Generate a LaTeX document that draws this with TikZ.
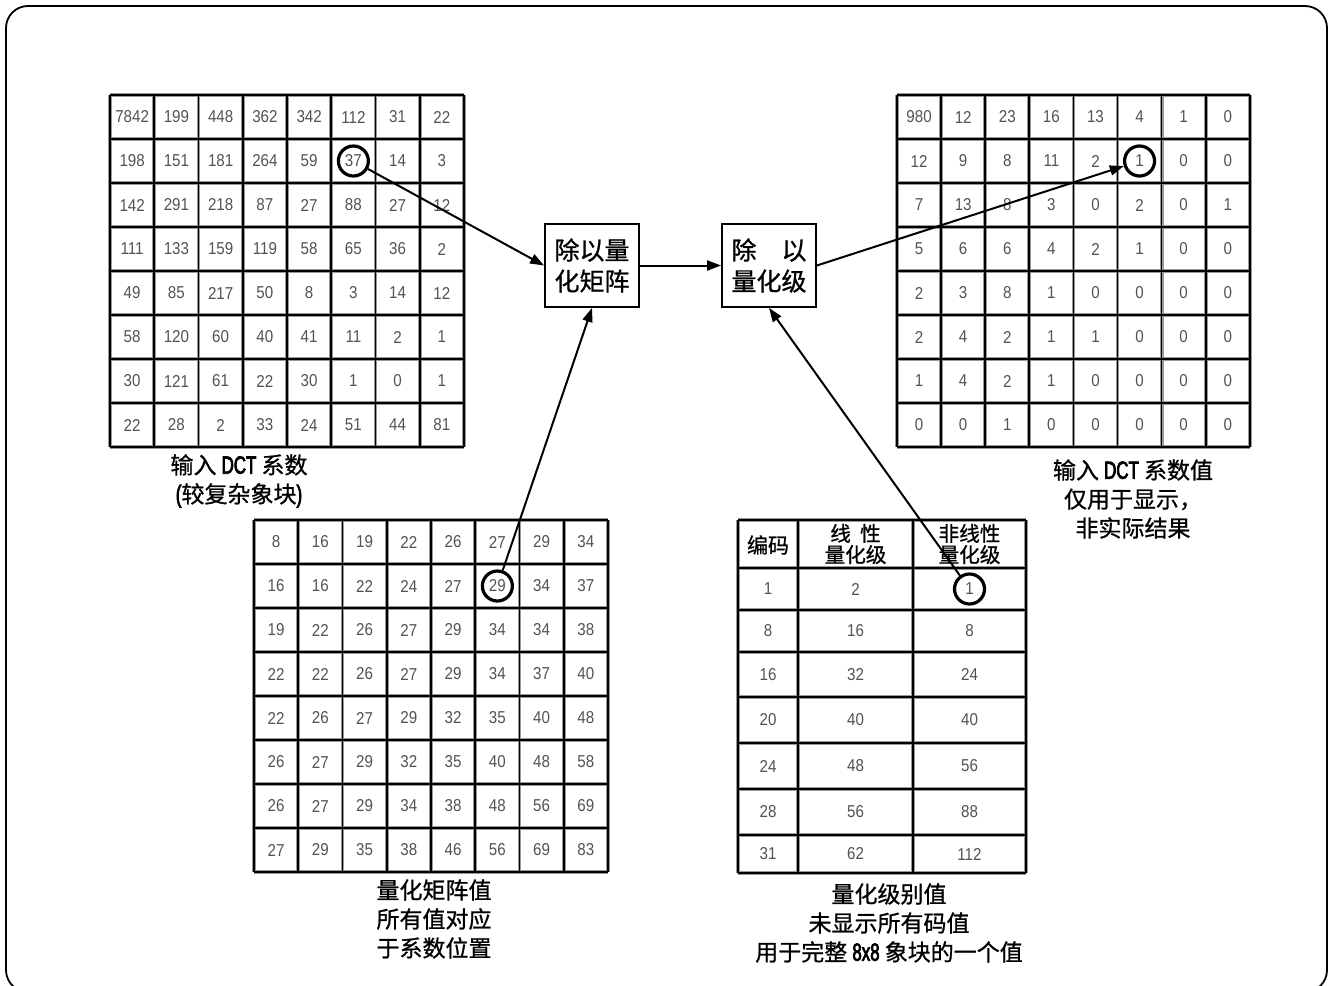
\documentclass[tikz,border=0pt]{standalone}
\usepackage{fontspec}
\setmainfont[FakeBold=0.9]{Noto Sans CJK SC}
\newfontfamily\digitfont[FakeStretch=0.88]{Liberation Sans}
\newfontfamily\condfont[FakeStretch=0.68,FakeBold=3,Scale=1.08]{Liberation Sans}
\usetikzlibrary{arrows.meta}
\newcommand{\cond}[1]{{\condfont #1}}
\newcommand{\qgrid}[4]{%
  \foreach \k in {0,...,8}{
    \draw[gridhalo] ({#1+\k*#3},#2) -- ({#1+\k*#3},{#2+8*#4});
    \draw[gridhalo] (#1,{#2+\k*#4}) -- ({#1+8*#3},{#2+\k*#4});
  }
  \foreach \k in {0,...,8}{
    \draw[gridline] ({#1+\k*#3},#2) -- ({#1+\k*#3},{#2+8*#4});
    \draw[gridline] (#1,{#2+\k*#4}) -- ({#1+8*#3},{#2+\k*#4});
  }
}
\newcommand{\qdata}[6]{%
  \foreach \row [count=\r] in {#5} {
    \foreach \v [count=\c] in \row {
      \node[num] (#6-\r-\c) at ({#1+(\c-0.5)*#3},{#2+(\r-0.5)*#4}) {\v};
    }
  }
}
\begin{document}
\begin{tikzpicture}[x=0.5pt,y=-0.5pt,
  gridhalo/.style={line width=1.9pt,black!40},
  gridline/.style={line width=0.85pt,black},
  num/.style={font=\digitfont\fontsize{8.6}{10}\selectfont,text=black!68,inner sep=0pt},
  circ/.style={circle,draw,line width=1.6pt,minimum size=15pt,inner sep=0pt},
  opbox/.style={draw,line width=0.9pt,minimum width=47pt,minimum height=41.5pt,
    font=\fontsize{12.5}{15.5}\selectfont,align=center,inner sep=0pt},
  lbl/.style={font=\fontsize{11.5}{14.5}\selectfont,align=center,inner sep=0pt},
  hdr/.style={font=\fontsize{10.3}{10.6}\selectfont,align=center,inner sep=0pt},
  arr/.style={line width=1pt,-{Triangle[length=7pt,width=5pt]}}]
\useasboundingbox (0,0) rectangle (1336,985);
\clip (0,0) rectangle (1336,985);
\draw[line width=0.9pt,rounded corners=11pt] (6,6) rectangle (1327,992);

% input DCT matrix
\qgrid{110}{95}{44.25}{44}
\qdata{110}{95}{44.25}{44}{{7842,199,448,362,342,112,31,22},{198,151,181,264,59,37,14,3},{142,291,218,87,27,88,27,12},{111,133,159,119,58,65,36,2},{49,85,217,50,8,3,14,12},{58,120,60,40,41,11,2,1},{30,121,61,22,30,1,0,1},{22,28,2,33,24,51,44,81}}{A}

% output matrix
\qgrid{897}{95}{44.1}{44}
\qdata{897}{95}{44.1}{44}{{980,12,23,16,13,4,1,0},{12,9,8,11,2,1,0,0},{7,13,8,3,0,2,0,1},{5,6,6,4,2,1,0,0},{2,3,8,1,0,0,0,0},{2,4,2,1,1,0,0,0},{1,4,2,1,0,0,0,0},{0,0,1,0,0,0,0,0}}{B}

% quantization matrix
\qgrid{254}{520}{44.25}{44}
\qdata{254}{520}{44.25}{44}{{8,16,19,22,26,27,29,34},{16,16,22,24,27,29,34,37},{19,22,26,27,29,34,34,38},{22,22,26,27,29,34,37,40},{22,26,27,29,32,35,40,48},{26,27,29,32,35,40,48,58},{26,27,29,34,38,48,56,69},{27,29,35,38,46,56,69,83}}{Q}

% quantizer scale table
\foreach \xx in {738,798,913,1026}{
  \draw[gridhalo] (\xx,520) -- (\xx,873);
}
\foreach \yy in {520,568,610,652,697,743,789,835,873}{
  \draw[gridhalo] (738,\yy) -- (1026,\yy);
}
\foreach \xx in {738,798,913,1026}{
  \draw[gridline] (\xx,520) -- (\xx,873);
}
\foreach \yy in {520,568,610,652,697,743,789,835,873}{
  \draw[gridline] (738,\yy) -- (1026,\yy);
}
\node[hdr,font=\fontsize{10.5}{10}\selectfont] (h1) at (768,545) {编码};
\node[hdr] (h2) at (855.5,544) {线\hspace{0.45em}性\\量化级};
\node[hdr] (h3) at (969.5,544) {非线性\\量化级};
\foreach \yc/\a/\b/\cc [count=\r] in {589/1/2/1,631/8/16/8,674.5/16/32/24,720/20/40/40,766/24/48/56,812/28/56/88,854/31/62/112}{
  \node[num] (T-\r-1) at (768,\yc) {\a};
  \node[num] (T-\r-2) at (855.5,\yc) {\b};
  \node[num] (T-\r-3) at (969.5,\yc) {\cc};
}

% circles
\node[circ] (c37) at (A-2-6) {};
\node[circ] (c1r) at (B-2-6) {};
\node[circ] (c29) at (Q-2-6) {};
\node[circ] (c1t) at (T-1-3) {};

% operation boxes
\node[opbox] (box1) at (592,265.5) {除以量\\化矩阵};
\node[opbox] (box2) at (769,265.5) {除\quad 以\\量化级};

% arrows
\draw[arr] (c37) -- (box1.west);
\draw[arr] (c29) -- (box1.south);
\draw[arr] (box1) -- (box2);
\draw[arr] (box2.east) -- (c1r);
\draw[arr] (c1t) -- (box2.south);

% labels
\node[lbl] (l1) at (239,481) {输入 \cond{DCT} 系数\\\cond{(}较复杂象块\cond{)}};
\node[lbl] (l2) at (1133,499) {输入 \cond{DCT} 系数值\\仅用于显示，\\非实际结果};
\node[lbl] (l3) at (434,919) {量化矩阵值\\所有值对应\\于系数位置};
\node[lbl] (l4) at (889,923) {量化级别值\\未显示所有码值\\用于完整 \cond{8x8} 象块的一个值};
\end{tikzpicture}
\end{document}
